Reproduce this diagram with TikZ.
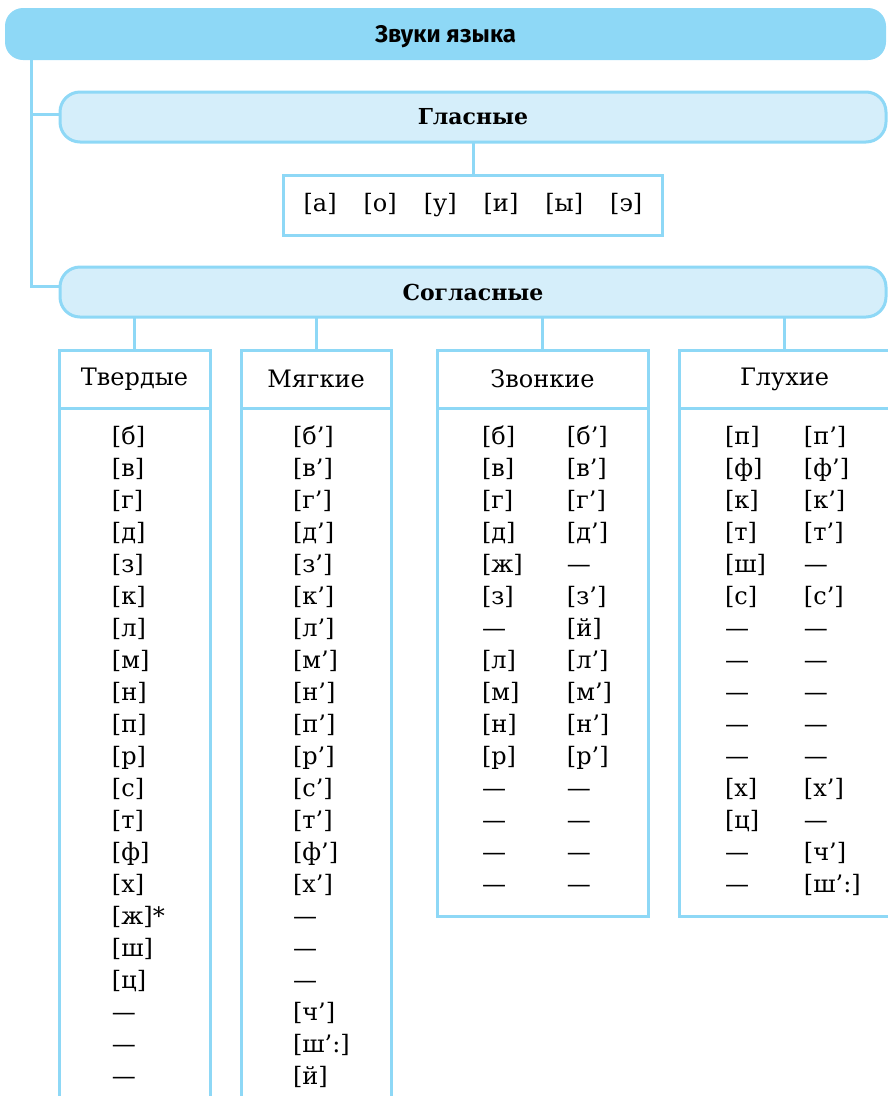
\documentclass[tikz,border=0pt]{standalone}
\usepackage{fontspec}
\setmainfont{DejaVu Serif}
\newfontfamily\headsans{Fira Sans}
\usetikzlibrary{positioning}
\definecolor{skyfill}{HTML}{8ED8F6}
\definecolor{palefill}{HTML}{D5EEFA}
\definecolor{skyline}{HTML}{8ED8F6}
\newcommand{\phon}[1]{[#1]}
\tikzstyle{topbar} = [rectangle, rounded corners=18pt, fill=skyfill, minimum width=881pt, minimum height=52pt, text depth=0pt, font=\headsans\bfseries\fontsize{24}{28}\selectfont]
\tikzstyle{group} = [draw=skyline, line width=3pt, rectangle, rounded corners=20pt, fill=palefill, minimum width=826pt, minimum height=50pt, outer sep=0pt, font=\bfseries\fontsize{22}{26}\selectfont]
\tikzstyle{cell} = [draw=skyline, line width=3pt, rectangle, fill=white, inner sep=0pt, outer sep=0pt, font=\fontsize{24}{32}\selectfont]
\tikzstyle{head} = [cell, minimum height=58pt]
\tikzstyle{link} = [draw=skyline, line width=3pt]

\begin{document}
\begin{tikzpicture}[x=1pt,y=1pt]
    \useasboundingbox (0,0) rectangle (888,-1096);
    \clip (0,0) rectangle (888,-1096);

    \node [topbar] (root) at (445.5,-34) {Звуки языка};
    \node [group] (vow) at (473,-117) {Гласные};
    \node [cell, minimum width=379pt, minimum height=60pt, below=33pt of vow] (vowlist)
        {\phon{а}\hspace{27pt}\phon{о}\hspace{27pt}\phon{у}\hspace{27pt}\phon{и}\hspace{27pt}\phon{ы}\hspace{27pt}\phon{э}};
    \node [group, below=32pt of vowlist] (cons) {Согласные};

    \node [head, minimum width=151pt] (hardhead) at (134.5,-379) {Твердые};
    \node [head, minimum width=150pt, right=31pt of hardhead] (softhead) {Мягкие};
    \node [head, minimum width=211pt, right=46pt of softhead] (voicedhead) {Звонкие};
    \node [head, minimum width=211pt, right=31pt of voicedhead] (voicelesshead) {Глухие};

    \node [cell, inner ysep=14pt, below=0pt of hardhead] (hardlist) {%
      \begin{tabular}{@{\hspace{53pt}}p{98pt}@{}}
        \phon{б}\\ \phon{в}\\ \phon{г}\\ \phon{д}\\ \phon{з}\\ \phon{к}\\ \phon{л}\\
        \phon{м}\\ \phon{н}\\ \phon{п}\\ \phon{р}\\ \phon{с}\\ \phon{т}\\ \phon{ф}\\
        \phon{х}\\ \phon{ж}*\\ \phon{ш}\\ \phon{ц}\\ —\\ —\\ —
      \end{tabular}};
    \node [cell, inner ysep=14pt, below=0pt of softhead] (softlist) {%
      \begin{tabular}{@{\hspace{52pt}}p{98pt}@{}}
        \phon{б’}\\ \phon{в’}\\ \phon{г’}\\ \phon{д’}\\ \phon{з’}\\ \phon{к’}\\ \phon{л’}\\
        \phon{м’}\\ \phon{н’}\\ \phon{п’}\\ \phon{р’}\\ \phon{с’}\\ \phon{т’}\\ \phon{ф’}\\
        \phon{х’}\\ —\\ —\\ —\\ \phon{ч’}\\ \phon{ш’:}\\ \phon{й}
      \end{tabular}};
    \node [cell, inner ysep=14pt, below=0pt of voicedhead] (voicedlist) {%
      \begin{tabular}{@{\hspace{45pt}}p{85pt}@{}p{81pt}@{}}
        \phon{б} & \phon{б’}\\ \phon{в} & \phon{в’}\\ \phon{г} & \phon{г’}\\
        \phon{д} & \phon{д’}\\ \phon{ж} & —\\ \phon{з} & \phon{з’}\\ — & \phon{й}\\
        \phon{л} & \phon{л’}\\ \phon{м} & \phon{м’}\\ \phon{н} & \phon{н’}\\
        \phon{р} & \phon{р’}\\ — & —\\ — & —\\ — & —\\ — & —
      \end{tabular}};
    \node [cell, inner ysep=14pt, below=0pt of voicelesshead] (voicelesslist) {%
      \begin{tabular}{@{\hspace{46pt}}p{79pt}@{}p{86pt}@{}}
        \phon{п} & \phon{п’}\\ \phon{ф} & \phon{ф’}\\ \phon{к} & \phon{к’}\\
        \phon{т} & \phon{т’}\\ \phon{ш} & —\\ \phon{с} & \phon{с’}\\ — & —\\
        — & —\\ — & —\\ — & —\\ — & —\\ \phon{х} & \phon{х’}\\ \phon{ц} & —\\
        — & \phon{ч’}\\ — & \phon{ш’:}
      \end{tabular}};

    \coordinate (stem) at (31,-60);
    \draw [link] (stem) |- ([yshift=3pt]vow.west); % connections
    \draw [link] (stem) |- ([yshift=6pt]cons.west);
    \draw [link] (vowlist.north) -- (vowlist.north |- vow.south);
    \draw [link] (hardhead.north) -- (hardhead.north |- cons.south);
    \draw [link] (softhead.north) -- (softhead.north |- cons.south);
    \draw [link] (voicedhead.north) -- (voicedhead.north |- cons.south);
    \draw [link] (voicelesshead.north) -- (voicelesshead.north |- cons.south);
\end{tikzpicture}
\end{document}
